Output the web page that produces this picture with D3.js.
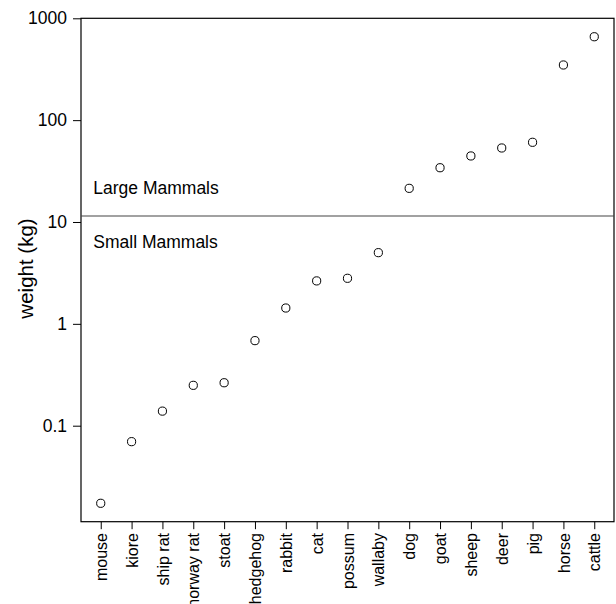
<!DOCTYPE html>
<html>
<head>
<meta charset="utf-8">
<script src="https://cdn.jsdelivr.net/npm/d3@7"></script>
<style>
  body { margin: 0; background: white; }
  text { font-family: "Liberation Sans", Arial, Helvetica, sans-serif; }
</style>
</head>
<body>
<div id="chart"></div>
<script>
//////////////////////////////////////////////////////////////////////////////
// Data: mammal weights in kg

var animals = ["mouse", "kiore", "ship rat", "norway rat", "stoat", "hedgehog",
               "rabbit", "cat", "possum", "wallaby", "dog", "goat", "sheep",
               "deer", "pig", "horse", "cattle"];
var weights = [0.0173, 0.0697, 0.139, 0.249, 0.264, 0.684,
               1.43, 2.64, 2.80, 5.0, 21.4, 34.1, 44.5,
               53.3, 60.6, 348, 659];
var yTicks = [0.1, 1, 10, 100, 1000];
var yTickLabels = ["0.1", "1", "10", "100", "1000"];
var divider = 11.45;
var groupLabels = ["Large Mammals", "Small Mammals"];

//////////////////////////////////////////////////////////////////////////////
// Layout  (note: "top" is taken by window.top, so use plot* names)

var width = 616, height = 604;
var plotLeft = 81, plotRight = 614, plotTop = 18.3, plotBottom = 521.7;

var xScale = d3.scaleLinear()
    .domain([-0.64, animals.length - 1 + 0.64])
    .range([plotLeft, plotRight]);
var yScale = d3.scaleLog()
    .domain([0.01141, 1000])
    .range([plotBottom, plotTop]);

var svg = d3.select("#chart")
    .append("svg")
    .attr("width", width)
    .attr("height", height);

// y axis
var yAxis = d3.axisLeft(yScale)
    .tickValues(yTicks)
    .tickFormat(function(d, i) { return yTickLabels[i]; })
    .tickSize(8)
    .tickPadding(6);

var gy = svg.append("g")
    .attr("transform", "translate(" + plotLeft + ",0)")
    .call(yAxis);
gy.select(".domain").remove();
gy.selectAll("line").attr("stroke", "black");
gy.selectAll("text")
    .attr("font-size", "17.5px")
    .attr("fill", "black")
    .style("font-family", "'Liberation Sans', Arial, sans-serif");

// x axis, labels turned vertical
var xAxis = d3.axisBottom(xScale)
    .tickValues(d3.range(animals.length))
    .tickFormat(function(d) { return animals[d]; })
    .tickSize(7.5)
    .tickPadding(0);

var gx = svg.append("g")
    .attr("transform", "translate(0," + plotBottom + ")")
    .call(xAxis);
gx.select(".domain").remove();
gx.selectAll("line").attr("stroke", "black");
gx.selectAll("text")
    .attr("font-size", "16px")
    .attr("fill", "black")
    .style("font-family", "'Liberation Sans', Arial, sans-serif")
    .attr("text-anchor", "end")
    .attr("dy", "0.35em")
    .attr("transform", "translate(0,11.3) rotate(-90)")
    .attr("x", 0)
    .attr("y", 0);

// frame
svg.append("rect")
    .attr("x", plotLeft)
    .attr("y", plotTop)
    .attr("width", plotRight - plotLeft)
    .attr("height", plotBottom - plotTop)
    .attr("fill", "none")
    .attr("stroke", "black")
    .attr("stroke-width", 1.2);

// divider between groups
svg.append("line")
    .attr("x1", plotLeft)
    .attr("x2", plotRight)
    .attr("y1", yScale(divider))
    .attr("y2", yScale(divider))
    .attr("stroke", "#444")
    .attr("stroke-width", 1.2);

svg.append("text")
    .attr("x", plotLeft + 12.3)
    .attr("y", yScale(divider) - 22)
    .attr("font-size", "17.5px")
    .text(groupLabels[0]);

svg.append("text")
    .attr("x", plotLeft + 12.3)
    .attr("y", yScale(divider) + 32)
    .attr("font-size", "17.5px")
    .text(groupLabels[1]);

// y title
svg.append("text")
    .attr("transform", "translate(33," + ((plotTop + plotBottom) / 2 - 1.5) + ") rotate(-90)")
    .attr("text-anchor", "middle")
    .attr("font-size", "20.5px")
    .text("weight (kg)");

// points
svg.append("g")
    .selectAll("circle")
    .data(weights)
    .enter()
    .append("circle")
    .attr("cx", function(d, i) { return xScale(i); })
    .attr("cy", function(d) { return yScale(d); })
    .attr("r", 4.1)
    .attr("fill", "none")
    .attr("stroke", "black")
    .attr("stroke-width", 1);
</script>
</body>
</html>
